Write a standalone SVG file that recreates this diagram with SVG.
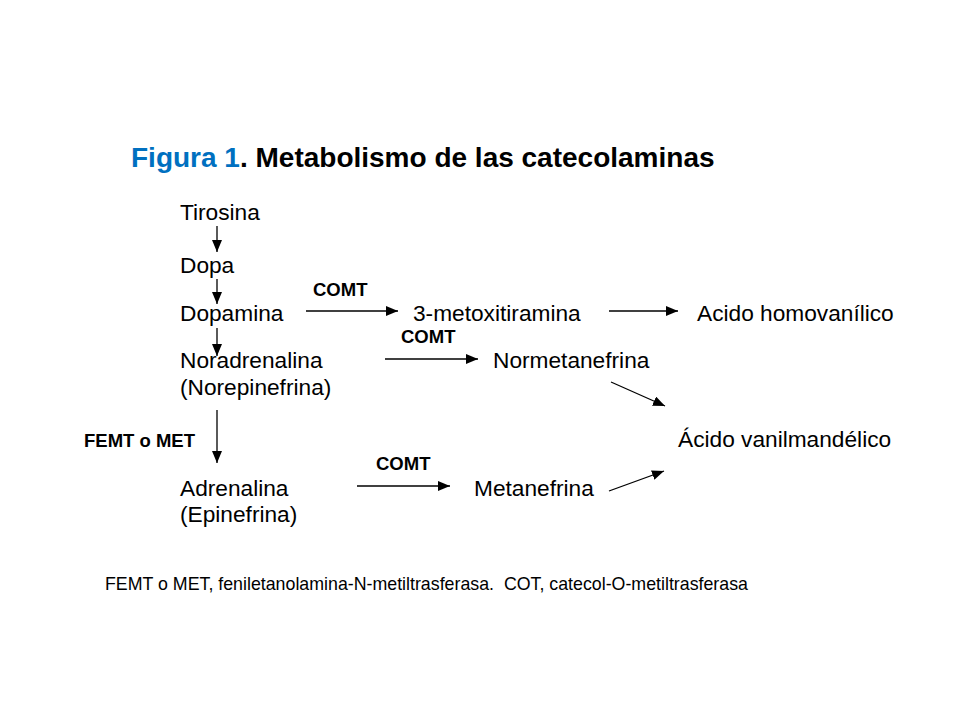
<svg xmlns="http://www.w3.org/2000/svg" width="960" height="720" viewBox="0 0 960 720">
<defs>
<style>
text{font-family:"Liberation Sans",Arial,sans-serif;fill:#000}
.n{font-size:22.7px}
.l{font-size:18.5px;font-weight:bold}
.t{font-size:28px;font-weight:bold}
.f{font-size:17.8px}
.c line{stroke:#000;stroke-width:1.3;marker-end:url(#a)}
</style>
<marker id="a" viewBox="0 0 12 10" refX="12" refY="5" markerWidth="12" markerHeight="10" markerUnits="userSpaceOnUse" orient="auto">
<path d="M0,0L12,5L0,10z" fill="#000"/>
</marker>
</defs>
<rect width="960" height="720" fill="#fff"/>
<text class="t" x="131" y="167"><tspan fill="#0070C0">Figura 1</tspan>. Metabolismo de las catecolaminas</text>
<g id="tirosina"><text class="n" x="180" y="220">Tirosina</text></g>
<g id="dopa"><text class="n" x="180" y="273">Dopa</text></g>
<g id="dopamina"><text class="n" x="180" y="321">Dopamina</text></g>
<g id="noradrenalina"><text class="n" x="180" y="368">Noradrenalina</text><text class="n" x="180" y="395">(Norepinefrina)</text></g>
<g id="adrenalina"><text class="n" x="180" y="496">Adrenalina</text><text class="n" x="180" y="522">(Epinefrina)</text></g>
<g id="metoxitiramina"><text class="n" x="413" y="321">3-metoxitiramina</text></g>
<g id="homovanilico"><text class="n" x="697" y="321">Acido homovanílico</text></g>
<g id="normetanefrina"><text class="n" x="493" y="368">Normetanefrina</text></g>
<g id="vanilmandelico"><text class="n" x="678" y="447">Ácido vanilmandélico</text></g>
<g id="metanefrina"><text class="n" x="474" y="496">Metanefrina</text></g>
<g class="c" id="connectors">
<line x1="217" y1="226" x2="217" y2="252"/>
<line x1="217" y1="279" x2="217" y2="304"/>
<line x1="217" y1="328" x2="217" y2="356"/>
<line x1="217" y1="410" x2="217" y2="463"/>
<line x1="306" y1="311" x2="398" y2="311"/>
<line x1="609" y1="311" x2="678" y2="311"/>
<line x1="385" y1="359" x2="478" y2="359"/>
<line x1="611" y1="382" x2="665" y2="406"/>
<line x1="357" y1="486" x2="450" y2="486"/>
<line x1="609" y1="491" x2="664" y2="471"/>
<text class="l" x="313" y="296">COMT</text>
<text class="l" x="401" y="343">COMT</text>
<text class="l" x="376" y="470">COMT</text>
<text class="l" x="84" y="447">FEMT o MET</text>
</g>
<text class="f" x="105" y="590" xml:space="preserve">FEMT o MET, feniletanolamina-N-metiltrasferasa.  COT, catecol-O-metiltrasferasa</text>
</svg>
